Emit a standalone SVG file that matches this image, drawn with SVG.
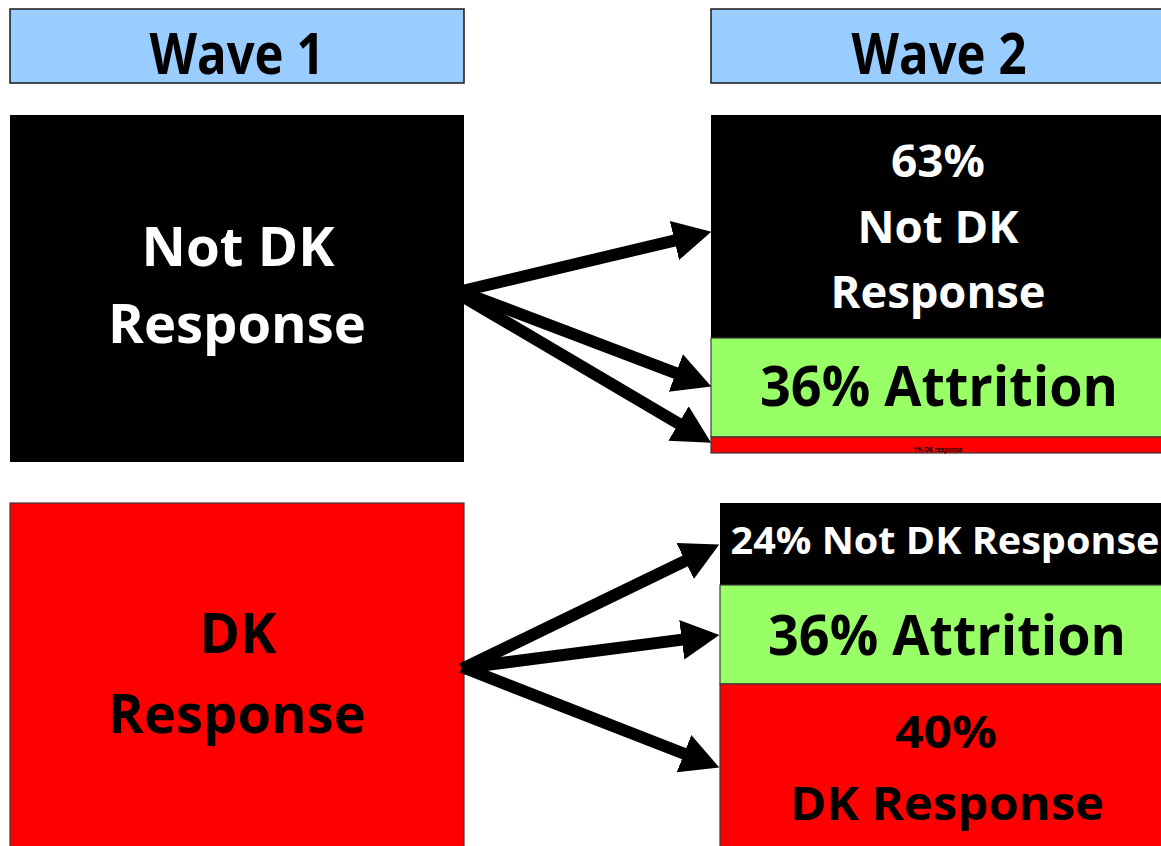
<svg xmlns="http://www.w3.org/2000/svg" width="1161" height="846" viewBox="0 0 1161 846">
  <style>
    .hdr { fill: #99CCFF; stroke: #1a1a1a; stroke-width: 1.5; }
    .blk { fill: #000000; }
    .grn { fill: #99FF66; stroke: #3a3a3a; stroke-width: 1.2; }
    .red { fill: #FF0000; stroke: #3a3a3a; stroke-width: 1.2; }
    text { font-family: "Open Sans", "Noto Sans", "Liberation Sans", sans-serif; font-weight: bold; text-anchor: middle; }
    .w { fill: #ffffff; }
    .k { fill: #000000; }
    .arrow { stroke: #000000; stroke-width: 12; fill: none; marker-end: url(#head); }
  </style>
  <defs>
    <marker id="head" markerUnits="userSpaceOnUse" markerWidth="40" markerHeight="44" viewBox="0 -20 38 40" refX="10" refY="0" orient="auto">
      <path d="M0,-19 L36,0 L0,19 Z" fill="#000000"/>
    </marker>
  </defs>

  <rect width="1161" height="846" fill="#ffffff"/>

  <!-- column headers -->
  <g id="wave1-header">
    <rect class="hdr" x="10" y="9" width="454" height="74"/>
    <text class="k" x="237" y="74" font-size="58" textLength="175" lengthAdjust="spacingAndGlyphs">Wave 1</text>
  </g>
  <g id="wave2-header">
    <rect class="hdr" x="711" y="9" width="460" height="74"/>
    <text class="k" x="939" y="74" font-size="58" textLength="175" lengthAdjust="spacingAndGlyphs">Wave 2</text>
  </g>

  <!-- wave 1: not DK -->
  <g id="w1-notdk">
    <rect class="blk" x="10" y="115" width="454" height="347"/>
    <text class="w" x="238" y="266" font-size="53" textLength="193" lengthAdjust="spacingAndGlyphs">Not DK</text>
    <text class="w" x="237" y="343" font-size="53" textLength="258" lengthAdjust="spacingAndGlyphs">Response</text>
  </g>

  <!-- wave 2 outcomes of not DK -->
  <g id="w2-notdk-notdk">
    <rect class="blk" x="711" y="115" width="460" height="223"/>
    <text class="w" x="938" y="177" font-size="45" textLength="94" lengthAdjust="spacingAndGlyphs">63%</text>
    <text class="w" x="938" y="243" font-size="44" textLength="161" lengthAdjust="spacingAndGlyphs">Not DK</text>
    <text class="w" x="938" y="308" font-size="44" textLength="215" lengthAdjust="spacingAndGlyphs">Response</text>
  </g>
  <g id="w2-notdk-attrition">
    <rect class="grn" x="711" y="338" width="460" height="99"/>
    <text class="k" x="939" y="406" font-size="56" textLength="358" lengthAdjust="spacingAndGlyphs">36% Attrition</text>
  </g>
  <g id="w2-notdk-dk">
    <rect class="red" x="711" y="437" width="460" height="16"/>
    <text class="k" x="938" y="452" font-size="6.5" font-weight="normal" textLength="49" lengthAdjust="spacingAndGlyphs">1% DK response</text>
  </g>

  <!-- wave 1: DK -->
  <g id="w1-dk">
    <rect class="red" x="10" y="503" width="454" height="350"/>
    <text class="k" x="238" y="653" font-size="55" textLength="77" lengthAdjust="spacingAndGlyphs">DK</text>
    <text class="k" x="237" y="733" font-size="53" textLength="258" lengthAdjust="spacingAndGlyphs">Response</text>
  </g>

  <!-- wave 2 outcomes of DK -->
  <g id="w2-dk-notdk">
    <rect class="blk" x="720" y="503" width="451" height="82"/>
    <text class="w" x="945" y="554" font-size="38" textLength="429" lengthAdjust="spacingAndGlyphs">24% Not DK Response</text>
  </g>
  <g id="w2-dk-attrition">
    <rect class="grn" x="720" y="585" width="451" height="99"/>
    <text class="k" x="947" y="655" font-size="56" textLength="358" lengthAdjust="spacingAndGlyphs">36% Attrition</text>
  </g>
  <g id="w2-dk-dk">
    <rect class="red" x="720" y="684" width="451" height="170"/>
    <text class="k" x="946" y="748" font-size="45" textLength="102" lengthAdjust="spacingAndGlyphs">40%</text>
    <text class="k" x="947" y="820" font-size="46" textLength="314" lengthAdjust="spacingAndGlyphs">DK Response</text>
  </g>

  <!-- transitions between waves -->
  <g id="connectors">
    <line class="arrow" x1="462" y1="291" x2="684.7" y2="238.1"/>
    <line class="arrow" x1="462" y1="292" x2="685.7" y2="376.8"/>
    <line class="arrow" x1="462" y1="296" x2="687.6" y2="428.8"/>
    <line class="arrow" x1="462" y1="669" x2="694.6" y2="556.4"/>
    <line class="arrow" x1="462" y1="668" x2="692.2" y2="638.4"/>
    <line class="arrow" x1="462" y1="667" x2="693.8" y2="757.5"/>
  </g>
</svg>
